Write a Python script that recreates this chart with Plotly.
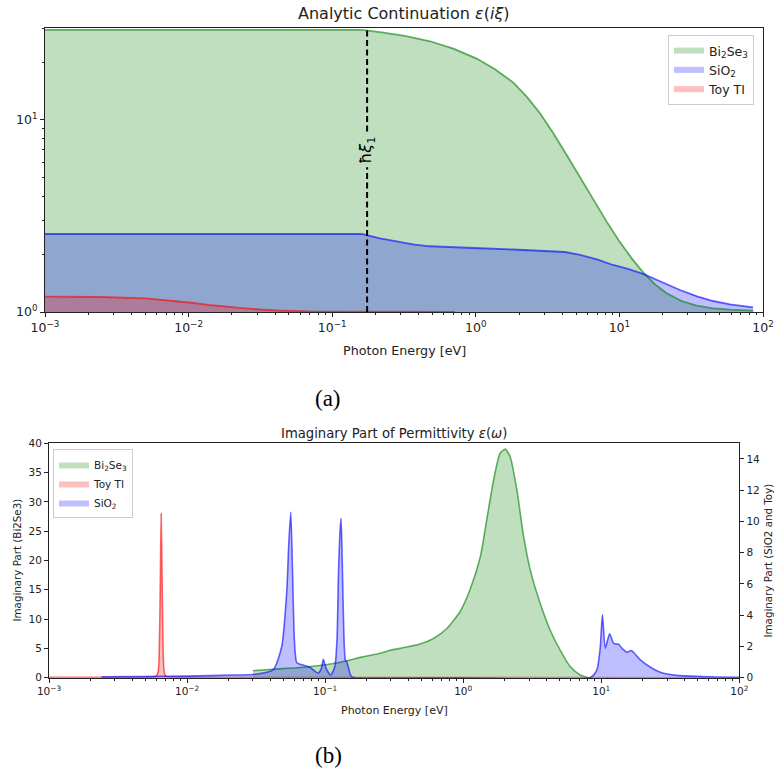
import plotly.graph_objects as go
import numpy as np

# ---------------- data: (a) analytic continuation eps(i xi) ----------------
xi_bi = [0.001, 0.16, 0.2153, 0.3213, 0.4799, 0.6976, 1.014, 1.360, 1.825, 2.261, 2.800, 3.467, 4.294, 5.317,
         6.584, 8.152, 9.936, 12.18, 14.68, 17.70, 21.34, 27.15, 34.52, 45.10, 58.91, 85.65]
eps_bi = [29.43, 29.43, 28.62, 27.38, 25.68, 23.52, 20.86, 18.36, 15.65, 13.23, 10.83, 8.52, 6.57, 5.03,
          3.83, 2.954, 2.352, 1.903, 1.603, 1.393, 1.251, 1.141, 1.079, 1.045, 1.028, 1.016]
xi_si = [0.001, 0.16, 0.2153, 0.2966, 0.3652, 0.4799, 0.6612, 1.070, 1.816, 3.132, 4.180, 5.317, 6.982, 9.025,
         11.48, 14.60, 19.17, 26.42, 34.71, 44.86, 58.91, 85.19]
eps_si = [2.548, 2.548, 2.420, 2.307, 2.247, 2.199, 2.173, 2.147, 2.116, 2.086, 2.053, 1.981, 1.877, 1.757,
          1.675, 1.578, 1.442, 1.302, 1.207, 1.141, 1.097, 1.058]
xi_toy = [0.001, 0.00242, 0.00497, 0.00844, 0.0109, 0.0145, 0.0188, 0.0247, 0.0325, 0.042, 0.070, 0.16, 0.716]
eps_toy = [1.201, 1.197, 1.178, 1.141, 1.114, 1.084, 1.062, 1.045, 1.029, 1.018, 1.008, 1.004, 1.002]
xi_1 = 0.175  # first Matsubara frequency (eV)

# ---------------- data: (b) imaginary part eps(omega) ----------------
w_bi = [0.0300, 0.042, 0.0624, 0.085, 0.109, 0.1435, 0.19, 0.251, 0.296, 0.349, 0.487, 0.61, 0.762,
        0.951, 1.12, 1.33, 1.48, 1.66, 1.85, 2.02, 2.19, 2.45, 2.74, 3.06, 3.61, 4.27, 5.04, 5.96, 7.05, 7.88, 8.5]
im_bi = [1.2, 1.45, 1.7, 2.0, 2.34, 2.9, 3.6, 4.16, 4.7, 5.0, 5.75, 6.7, 8.4,
         11.3, 15.0, 20.6, 26.9, 33.7, 38.3, 39.0, 37.7, 32.0, 24.1, 18.4, 12.7, 8.1, 4.7, 1.9, 0.46, 0.05, 0.0]

w_si = [0.0024, 0.005, 0.01, 0.0215, 0.030, 0.042, 0.0485, 0.0528, 0.0545, 0.0564, 0.0580, 0.0595, 0.0607,
        0.0624, 0.070, 0.078, 0.089, 0.094, 0.097, 0.100, 0.1028, 0.110, 0.114, 0.118, 0.122, 0.125, 0.1285,
        0.1305, 0.133, 0.1365, 0.140, 0.1435, 0.148, 0.151, 0.156, 0.165, 1.0, 8.3, 9.3, 9.85, 10.2, 10.7, 11.5,
        12.3, 13.4, 14.1, 15.4, 16.5, 19.2, 22.7, 26.8, 35.3, 61.7, 100]
im_si = [0.05, 0.07, 0.1, 0.17, 0.2, 0.5, 2.0, 5.6, 8.5, 10.6, 7.0, 3.0, 1.6,
         0.96, 0.8, 0.65, 0.3, 0.6, 1.18, 0.8, 0.5, 0.17, 0.4, 0.77, 2.5, 6.7, 9.5,
         10.2, 7.5, 3.0, 1.15, 1.02, 0.6, 0.28, 0.05, 0.0, 0.0, 0.0, 0.5, 2.0, 4.03, 1.89, 2.81,
         2.2, 2.13, 1.89, 1.63, 1.74, 1.14, 0.67, 0.35, 0.15, 0.06, 0.03]

w_toy = [0.001, 0.003, 0.005, 0.0060, 0.0062, 0.0063, 0.0064, 0.00649, 0.0066, 0.0067, 0.0068, 0.0070, 0.01,
         0.1, 1.0, 100]
im_toy = [0.02, 0.025, 0.03, 0.1, 0.5, 2.0, 6.0, 10.5, 6.0, 2.0, 0.5, 0.1, 0.03, 0.01, 0.005, 0.001]

# tick labels
x_tickvals = [1e-3, 1e-2, 1e-1, 1e0, 1e1, 1e2]
x_ticktext = ["10<sup>−3</sup>", "10<sup>−2</sup>", "10<sup>−1</sup>", "10<sup>0</sup>", "10<sup>1</sup>",
              "10<sup>2</sup>"]
ya_tickvals = [1, 10]
ya_ticktext = ["10<sup>0</sup>", "10<sup>1</sup>"]

GREEN_FILL = "rgba(0,128,0,0.25)"
BLUE_FILL = "rgba(0,0,255,0.25)"
RED_FILL = "rgba(255,0,0,0.25)"
GREEN_LINE = "rgba(0,128,0,0.6)"
BLUE_LINE = "rgba(0,0,255,0.6)"
RED_LINE = "rgba(255,0,0,0.6)"

FONT = "DejaVu Sans"
W, H = 774, 772

minor_log = [m * 10.0 ** k for k in range(-3, 2) for m in range(2, 10)]
minor_ya = [2, 3, 4, 5, 6, 7, 8, 9, 20, 30]

fig = go.Figure()

# ---- (a): baseline at eps=1, filled area, then the curve ----
a_series = [(xi_bi, eps_bi, GREEN_FILL, GREEN_LINE, "Bi<sub>2</sub>Se<sub>3</sub>"),
            (xi_si, eps_si, BLUE_FILL, BLUE_LINE, "SiO<sub>2</sub>"),
            (xi_toy, eps_toy, RED_FILL, RED_LINE, "Toy TI")]
for xs, ys, fc, lc, name in a_series:
    fig.add_trace(go.Scatter(x=xs, y=[1.0] * len(xs), mode="lines", line=dict(width=0),
                             showlegend=False, xaxis="x", yaxis="y", hoverinfo="skip"))
    fig.add_trace(go.Scatter(x=xs, y=ys, fill="tonexty", fillcolor=fc, mode="none", name=name,
                             xaxis="x", yaxis="y", legend="legend"))
for xs, ys, fc, lc, name in a_series:
    fig.add_trace(go.Scatter(x=xs, y=ys, mode="lines", line=dict(width=1.8, color=lc),
                             showlegend=False, xaxis="x", yaxis="y"))

YTOP_A = 30.1
fig.add_trace(go.Scatter(x=[xi_1, xi_1], y=[1.0, YTOP_A], mode="lines",
                         line=dict(color="black", width=2, dash="6px,3.5px"),
                         showlegend=False, xaxis="x", yaxis="y"))

# ---- (b) ----
b_series = [(w_bi, im_bi, GREEN_FILL, GREEN_LINE, "Bi<sub>2</sub>Se<sub>3</sub>", "y3"),
            (w_toy, im_toy, RED_FILL, RED_LINE, "Toy TI", "y4"),
            (w_si, im_si, BLUE_FILL, BLUE_LINE, "SiO<sub>2</sub>", "y4")]
for xs, ys, fc, lc, name, ya in b_series:
    fig.add_trace(go.Scatter(x=xs, y=ys, fill="tozeroy", fillcolor=fc, mode="lines",
                             line=dict(width=0, color=fc, shape="spline", smoothing=0.6), name=name,
                             xaxis="x2", yaxis=ya, legend="legend2"))
    fig.add_trace(go.Scatter(x=xs, y=ys, mode="lines",
                             line=dict(width=1.6, color=lc, shape="spline", smoothing=0.6),
                             showlegend=False, xaxis="x2", yaxis=ya))

# ---- geometry ----
a_l, a_r, a_t, a_b = 45, 763, 28, 312
b_l, b_r, b_t, b_b = 49, 739.3, 443.3, 677.7

axis_common = dict(showline=True, linecolor="#222", linewidth=1, ticks="outside", tickcolor="#222",
                   ticklen=4, tickwidth=1, showgrid=False, zeroline=False, automargin=False)
minor_common = dict(ticks="outside", ticklen=2, tickcolor="#222", showgrid=False)

fig.update_layout(
    width=W, height=H, margin=dict(l=0, r=0, t=0, b=0, autoexpand=False), paper_bgcolor="white",
    plot_bgcolor="rgba(0,0,0,0)",
    font=dict(family=FONT, color="#222"),
    xaxis=dict(type="log", range=[-3, 2], domain=[a_l / W, a_r / W], anchor="y", mirror=True,
               tickvals=x_tickvals, ticktext=x_ticktext, tickfont=dict(size=12.5),
               minor=dict(tickvals=minor_log, **minor_common), **axis_common),
    yaxis=dict(type="log", range=[0, np.log10(YTOP_A)], domain=[1 - a_b / H, 1 - a_t / H], anchor="x",
               mirror=True, tickvals=ya_tickvals, ticktext=ya_ticktext, tickfont=dict(size=12.5),
               minor=dict(tickvals=minor_ya, **minor_common), **axis_common),
    xaxis2=dict(type="log", range=[-3, 2], domain=[b_l / W, b_r / W], anchor="y3", mirror=True,
                tickvals=x_tickvals, ticktext=x_ticktext, tickfont=dict(size=10.5),
                minor=dict(tickvals=minor_log, **minor_common), **axis_common),
    yaxis3=dict(range=[0, 40], domain=[1 - b_b / H, 1 - b_t / H], anchor="x2", dtick=5,
                tickfont=dict(size=10.5), **axis_common),
    yaxis4=dict(range=[0, 15], overlaying="y3", side="right", anchor="x2", dtick=2,
                tickfont=dict(size=10.5), **axis_common),
    legend=dict(x=668 / W, y=1 - 35 / H, xanchor="left", yanchor="top", bgcolor="rgba(255,255,255,0.8)",
                bordercolor="#cccccc", borderwidth=1, font=dict(size=12.5, family=FONT),
                itemwidth=30, tracegroupgap=0, traceorder="normal"),
    legend2=dict(x=53 / W, y=1 - 449 / H, xanchor="left", yanchor="top", bgcolor="rgba(255,255,255,0.8)",
                 bordercolor="#cccccc", borderwidth=1, font=dict(size=10.5, family=FONT),
                 itemwidth=30, tracegroupgap=0, traceorder="normal"),
    showlegend=True,
)

ann = []
ann.append(dict(text="Analytic Continuation <i>ε</i>(<i>iξ</i>)", x=(a_l + a_r) / 2 / W, y=1 - 14 / H,
                xref="paper", yref="paper", showarrow=False, font=dict(size=16), xanchor="center",
                yanchor="middle"))
ann.append(dict(text="Photon Energy [eV]", x=(a_l + a_r) / 2 / W, y=1 - 350 / H, xref="paper", yref="paper",
                showarrow=False, font=dict(size=12.7), xanchor="center", yanchor="middle"))
ann.append(dict(text="(a)", x=328 / W, y=1 - 398 / H, xref="paper", yref="paper", showarrow=False,
                font=dict(size=23, family="Liberation Serif", color="black"), xanchor="center",
                yanchor="middle"))
ann.append(dict(text="Imaginary Part of Permittivity <i>ε</i>(<i>ω</i>)", x=(b_l + b_r) / 2 / W,
                y=1 - 433 / H, xref="paper", yref="paper", showarrow=False, font=dict(size=13.2),
                xanchor="center", yanchor="middle"))
ann.append(dict(text="Photon Energy [eV]", x=(b_l + b_r) / 2 / W, y=1 - 710 / H, xref="paper", yref="paper",
                showarrow=False, font=dict(size=11), xanchor="center", yanchor="middle"))
ann.append(dict(text="Imaginary Part (Bi2Se3)", x=16 / W, y=1 - (b_t + b_b) / 2 / H, xref="paper",
                yref="paper", showarrow=False, font=dict(size=10.3), textangle=-90, xanchor="center",
                yanchor="middle"))
ann.append(dict(text="Imaginary Part (SiO2 and Toy)", x=767 / W, y=1 - (b_t + b_b) / 2 / H, xref="paper",
                yref="paper", showarrow=False, font=dict(size=10.3), textangle=-90, xanchor="center",
                yanchor="middle"))
ann.append(dict(text="(b)", x=328 / W, y=1 - 755 / H, xref="paper", yref="paper", showarrow=False,
                font=dict(size=23, family="Liberation Serif", color="black"), xanchor="center",
                yanchor="middle"))
ann.append(dict(text="ħ<i>ξ</i><sub>1</sub>", x=np.log10(xi_1), y=0.84, xref="x", yref="y",
                showarrow=False, font=dict(size=16, color="black"), textangle=-90, xanchor="center",
                yanchor="middle", bgcolor="rgb(191,223,191)", borderpad=3))
fig.update_layout(annotations=ann)

fig.write_html("out.html")
